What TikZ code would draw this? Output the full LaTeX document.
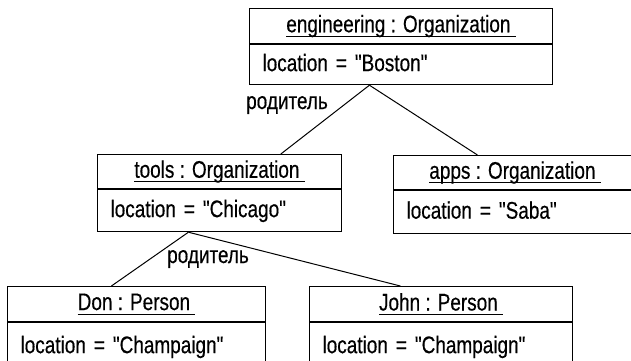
\documentclass[tikz,border=0pt]{standalone}
\usepackage{fontspec}
\setmainfont{Liberation Sans}[FakeStretch=0.79, FakeBold=0.4, Ligatures=TeXOff]
\usetikzlibrary{calc}
\newcommand\undl[1]{\setbox0\hbox{#1\ }\rlap{\rule[-4.5pt]{\wd0}{0.9pt}}\box0}
\newcommand\objfont{\fontsize{24}{27}\selectfont}
\tikzset{
  objtitle/.style={draw, line width=1.1pt, anchor=north west, inner sep=0pt, font=\objfont},
  objattr/.style={draw, line width=1.1pt, anchor=north west, inner xsep=13pt, inner ysep=0pt,
    align=left, text height=17pt, text depth=4pt, font=\objfont},
  link/.style={line width=1pt},
  rolelabel/.style={anchor=base west, inner sep=0pt, font=\objfont}
}
\begin{document}
\begin{tikzpicture}[x=1pt, y=-1pt]
\clip (0,0) rectangle (631,360);
% engineering
\node[objtitle, minimum width=303pt, minimum height=35pt] (engT) at (249,8) {\undl{engineering : Organization}};
\node[objattr, minimum width=303pt, text width=277pt, minimum height=40pt] (engA) at (engT.south west) {location = "Boston"};
% tools
\node[objtitle, minimum width=244pt, minimum height=34pt] (toolsT) at (97,154) {\undl{tools : Organization}};
\node[objattr, minimum width=244pt, text width=218pt, minimum height=42pt] (toolsA) at (toolsT.south west) {location = "Chicago"};
% apps
\node[objtitle, minimum width=243pt, minimum height=34pt] (appsT) at (393,155) {\undl{apps : Organization}};
\node[objattr, minimum width=243pt, text width=217pt, minimum height=43pt] (appsA) at (appsT.south west) {location = "Saba"};
% Don
\node[objtitle, minimum width=258pt, minimum height=35pt] (donT) at (7,286) {\undl{Don : Person}};
\node[objattr, minimum width=258pt, text width=232pt, minimum height=48pt] (donA) at (donT.south west) {location = "Champaign"};
% John
\node[objtitle, minimum width=263pt, minimum height=35pt] (johnT) at (309,286) {\undl{John : Person}};
\node[objattr, minimum width=263pt, text width=237pt, minimum height=48pt] (johnA) at (johnT.south west) {location = "Champaign"};
% links
\draw[link] ($(engA.south west)!0.396!(engA.south east)$) -- ($(toolsT.north west)!0.75!(toolsT.north east)$);
\draw[link] ($(engA.south west)!0.396!(engA.south east)$) -- ($(appsT.north west)!0.346!(appsT.north east)$);
\draw[link] ($(toolsA.south west)!0.373!(toolsA.south east)$) -- ($(donT.north west)!0.403!(donT.north east)$);
\draw[link] ($(toolsA.south west)!0.373!(toolsA.south east)$) -- ($(johnT.north west)!0.346!(johnT.north east)$);
% role labels
\node[rolelabel] (role1) at (246,109) {родитель};
\node[rolelabel] (role2) at (167,263) {родитель};
\end{tikzpicture}
\end{document}
